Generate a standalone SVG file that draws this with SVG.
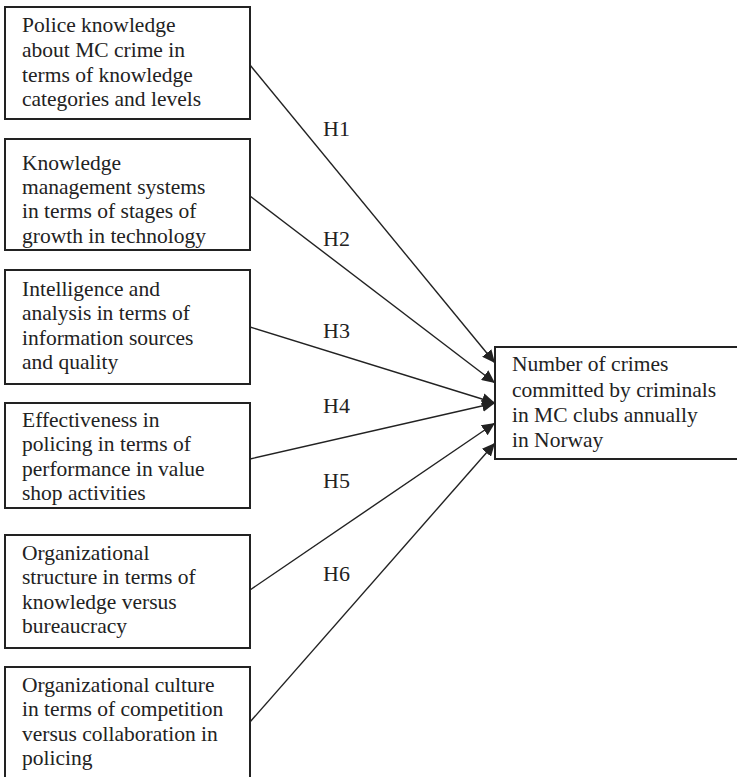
<svg xmlns="http://www.w3.org/2000/svg" width="737" height="777" viewBox="0 0 737 777">
<style>
.box{fill:#fff;stroke:#222;stroke-width:2}
.t{font-family:"Liberation Serif","Times New Roman",serif;font-size:21.5px;fill:#222}
.lbl{font-family:"Liberation Serif","Times New Roman",serif;font-size:22px;fill:#222}
.c{stroke:#222;stroke-width:1.4;fill:none;marker-end:url(#ah)}
</style>
<defs>
<marker id="ah" markerUnits="userSpaceOnUse" markerWidth="14" markerHeight="12" refX="13" refY="6" orient="auto">
<path d="M0,0 L13,6 L0,12 Z" fill="#222"/>
</marker>
</defs>
<rect width="737" height="777" fill="#fff"/>
<g id="connectors">
<line class="c" x1="250" y1="65" x2="495" y2="363"/>
<line class="c" x1="250" y1="196" x2="495" y2="383"/>
<line class="c" x1="250" y1="327" x2="495" y2="403"/>
<line class="c" x1="250" y1="459" x2="495" y2="403"/>
<line class="c" x1="250" y1="590" x2="495" y2="423"/>
<line class="c" x1="250" y1="722" x2="495" y2="443"/>
<text class="lbl" x="323" y="136">H1</text>
<text class="lbl" x="323" y="246">H2</text>
<text class="lbl" x="323" y="338">H3</text>
<text class="lbl" x="323" y="413">H4</text>
<text class="lbl" x="323" y="488">H5</text>
<text class="lbl" x="323" y="581">H6</text>
</g>
<g id="n1">
<rect class="box" x="5" y="7" width="245" height="112"/>
<text class="t" x="22" y="32">Police knowledge</text>
<text class="t" x="22" y="57">about MC crime in</text>
<text class="t" x="22" y="82">terms of knowledge</text>
<text class="t" x="22" y="106">categories and levels</text>
</g>
<g id="n2">
<rect class="box" x="5" y="139" width="245" height="111"/>
<text class="t" x="22" y="170">Knowledge</text>
<text class="t" x="22" y="194">management systems</text>
<text class="t" x="22" y="218">in terms of stages of</text>
<text class="t" x="22" y="243">growth in technology</text>
</g>
<g id="n3">
<rect class="box" x="5" y="270" width="245" height="114"/>
<text class="t" x="22" y="296">Intelligence and</text>
<text class="t" x="22" y="320">analysis in terms of</text>
<text class="t" x="22" y="345">information sources</text>
<text class="t" x="22" y="369">and quality</text>
</g>
<g id="n4">
<rect class="box" x="5" y="403" width="245" height="105"/>
<text class="t" x="22" y="427">Effectiveness in</text>
<text class="t" x="22" y="451">policing in terms of</text>
<text class="t" x="22" y="476">performance in value</text>
<text class="t" x="22" y="500">shop activities</text>
</g>
<g id="n5">
<rect class="box" x="5" y="535" width="245" height="113"/>
<text class="t" x="22" y="560">Organizational</text>
<text class="t" x="22" y="584">structure in terms of</text>
<text class="t" x="22" y="609">knowledge versus</text>
<text class="t" x="22" y="633">bureaucracy</text>
</g>
<g id="n6">
<rect class="box" x="5" y="667" width="245" height="115"/>
<text class="t" x="22" y="692">Organizational culture</text>
<text class="t" x="22" y="716">in terms of competition</text>
<text class="t" x="22" y="741">versus collaboration in</text>
<text class="t" x="22" y="765">policing</text>
</g>
<g id="target">
<rect class="box" x="495" y="347" width="245" height="112"/>
<text class="t" x="512" y="371">Number of crimes</text>
<text class="t" x="512" y="397">committed by criminals</text>
<text class="t" x="512" y="422">in MC clubs annually</text>
<text class="t" x="512" y="447">in Norway</text>
</g>
</svg>
